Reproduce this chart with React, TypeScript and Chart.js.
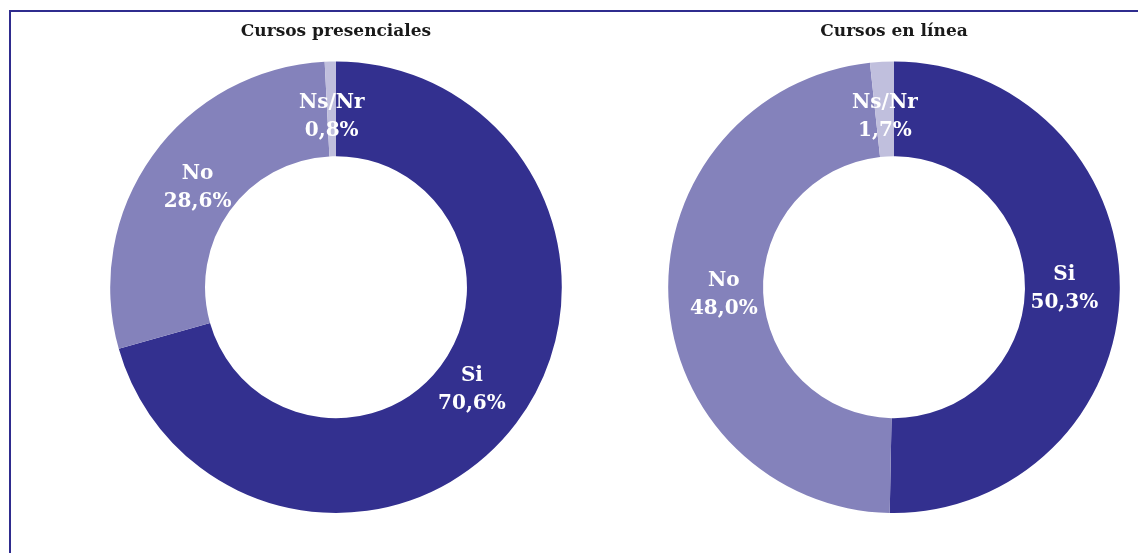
import React, { useEffect, useRef } from "react";
import { Chart, registerables } from "chart.js";

Chart.register(...registerables);

const categories = ["Si", "No", "Ns/Nr"];
const presencialesValues = [70.6, 28.6, 0.8];
const enLineaValues = [50.3, 48.0, 1.7];
const titles = ["Cursos presenciales", "Cursos en línea"];
const colors = ["#33308f", "#8482bb", "#c0bfdd"];

const FONT = "'DejaVu Serif', 'Liberation Serif', serif";

const labelPlugin = {
  id: "sliceLabels",
  afterDatasetsDraw(chart: any) {
    const ctx = chart.ctx;
    const meta = chart.getDatasetMeta(0);
    const data = chart.data.datasets[0].data as number[];
    ctx.save();
    ctx.fillStyle = "#ffffff";
    ctx.font = `bold 20px ${FONT}`;
    ctx.textAlign = "center";
    ctx.textBaseline = "middle";
    meta.data.forEach((arc: any, i: number) => {
      const p = arc.getProps(["x", "y", "startAngle", "endAngle", "innerRadius", "outerRadius"], true);
      const mid = (p.startAngle + p.endAngle) / 2;
      const r = (p.innerRadius + p.outerRadius) / 2 - 8;
      const x = p.x + Math.cos(mid) * r;
      const y = p.y + Math.sin(mid) * r;
      const val = data[i].toFixed(1).replace(".", ",") + "%";
      ctx.fillText(chart.data.labels[i], x, y - 14);
      ctx.fillText(val, x, y + 14);
    });
    ctx.restore();
  },
};

function Donut({ title, values, left }: { title: string; values: number[]; left: number }) {
  const ref = useRef<HTMLCanvasElement>(null);
  useEffect(() => {
    const chart = new Chart(ref.current!, {
      type: "doughnut",
      data: {
        labels: categories,
        datasets: [
          {
            data: values,
            backgroundColor: colors,
            borderWidth: 0,
          },
        ],
      },
      options: {
        animation: false,
        responsive: false,
        cutout: "58%",
        layout: { padding: { bottom: 40 } },
        plugins: {
          legend: { display: false },
          tooltip: { enabled: false },
          title: {
            display: true,
            text: title,
            color: "#1a1a1a",
            font: { family: FONT, size: 17, weight: "bold" },
            padding: { top: 9, bottom: 20 },
          },
        },
      },
      plugins: [labelPlugin],
    });
    return () => chart.destroy();
  }, []);
  return (
    <canvas
      ref={ref}
      width={480}
      height={541}
      style={{ position: "absolute", left, top: 12, width: 480, height: 541 }}
    />
  );
}

export default function App() {
  useEffect(() => {
    document.body.style.margin = "0";
  }, []);
  return (
    <div style={{ position: "relative", width: 1138, height: 553, overflow: "hidden", background: "#fff" }}>
      <div
        style={{
          position: "absolute",
          left: 9,
          top: 10,
          width: 1200,
          height: 600,
          borderLeft: "2px solid #2f2c8e",
          borderTop: "2px solid #2f2c8e",
        }}
      />
      <Donut title={titles[0]} values={presencialesValues} left={96} />
      <Donut title={titles[1]} values={enLineaValues} left={654} />
    </div>
  );
}
